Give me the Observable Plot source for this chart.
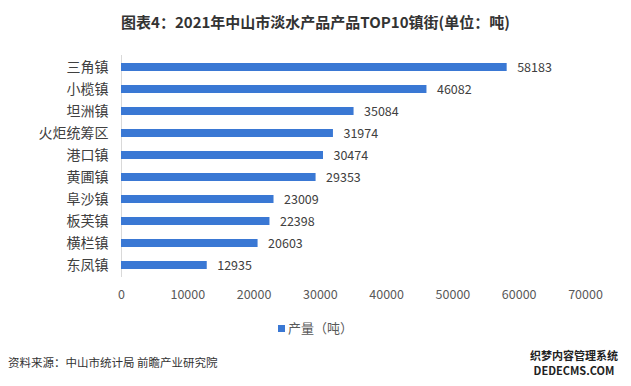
<!DOCTYPE html>
<html><head><meta charset="utf-8">
<script src="https://cdn.jsdelivr.net/npm/d3@7"></script>
<script src="https://cdn.jsdelivr.net/npm/@observablehq/plot@0.6"></script>
<style>
body{margin:0;background:#fff;font-family:"Noto Sans CJK SC","Noto Sans",sans-serif;width:631px;height:386px;position:relative;overflow:hidden}
#title{height:44px;line-height:44px;text-align:center;font-weight:bold;font-size:15px;color:#333}
#legend{position:absolute;top:318px;left:0;width:631px;text-align:center;font-size:13px;color:#595959}
#legend span.sw{display:inline-block;width:7px;height:7px;background:#3a78d4;margin-right:3px;vertical-align:1px}
#source{position:absolute;top:354px;left:8px;font-size:11.5px;color:#333}
.wm{position:absolute;left:522px;width:104px;font-size:11px;line-height:12px;color:#222;font-weight:bold;text-align:center}
</style></head><body>
<div id="title">图表4：2021年中山市淡水产品产品TOP10镇街(单位：吨)</div>
<div id="chart"></div>
<div id="legend"><span class="sw"></span>产量（吨）</div>
<div id="source">资料来源：中山市统计局 前瞻产业研究院</div>
<div class="wm" style="top:349px">织梦内容管理系统</div>
<div class="wm" style="top:364px">DEDECMS.COM</div>
<script>
const towns = ["三角镇","小榄镇","坦洲镇","火炬统筹区","港口镇","黄圃镇","阜沙镇","板芙镇","横栏镇","东凤镇"];
const values = [58183,46082,35084,31974,30474,29353,23009,22398,20603,12935];
const xTicks = [0,10000,20000,30000,40000,50000,60000,70000];
const data = towns.map((t,i)=>({town:t,value:values[i]}));
const chart = Plot.plot({
  width:631, height:270,
  marginTop:11, marginBottom:37, marginLeft:121, marginRight:46,
  style:{fontFamily:'"Noto Sans CJK SC","Noto Sans",sans-serif', background:"transparent"},
  x:{domain:[0,70000], ticks:xTicks, tickFormat:d=>String(d), label:null},
  y:{domain:towns, paddingInner:0.65, paddingOuter:0.325, label:null},
  marks:[
    Plot.ruleX([0],{stroke:"#d9d9d9"}),
    Plot.barX(data,{y:"town",x:"value",fill:"#3a78d4"}),
    Plot.text(data,{y:"town",x:"value",text:d=>String(d.value),textAnchor:"start",dx:10,fontSize:12.5,fill:"#404040"}),
    Plot.axisY({tickSize:0,tickPadding:13,fontSize:14,color:"#404040",label:null}),
    Plot.axisX({ticks:xTicks,tickFormat:d=>String(d),tickSize:0,tickPadding:13,fontSize:12.5,color:"#595959",label:null})
  ]
});
document.getElementById("chart").appendChild(chart);
</script>
</body></html>
